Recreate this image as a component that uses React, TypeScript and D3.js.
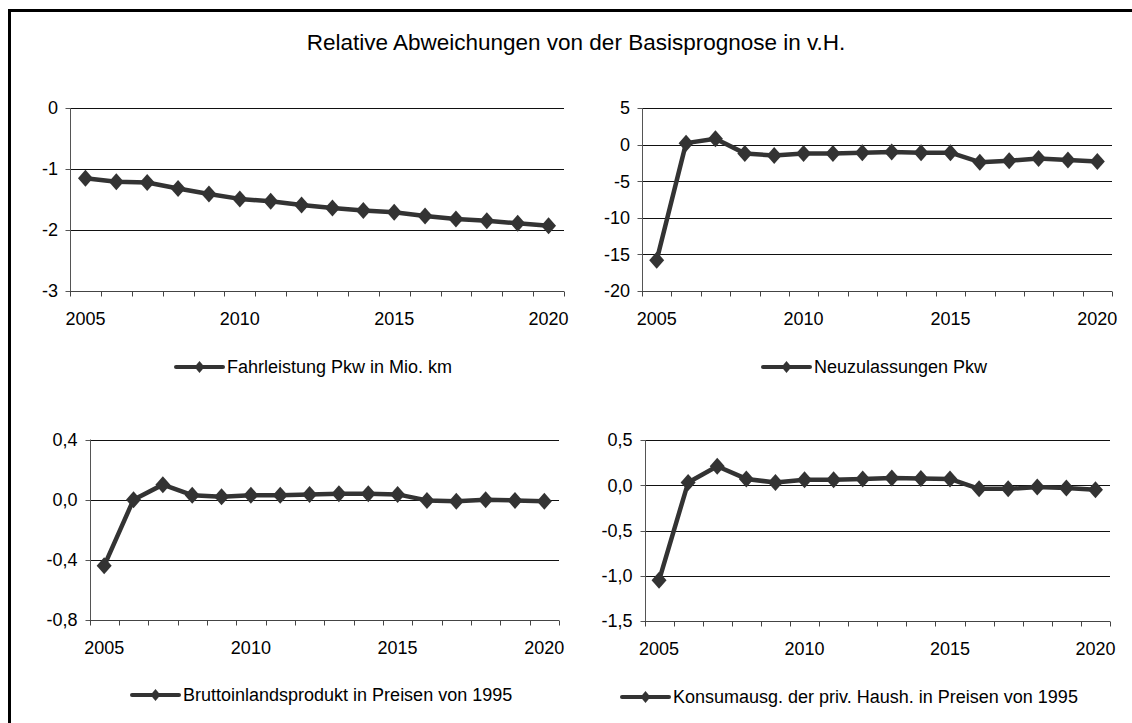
import * as d3 from 'd3';
import React, { useEffect, useRef } from 'react';

// Jahre (Kategorien)
const years = ['2005', '2006', '2007', '2008', '2009', '2010', '2011', '2012', '2013', '2014', '2015', '2016', '2017', '2018', '2019', '2020'];
const yearLabels = ['2005', '2010', '2015', '2020'];

// relative Abweichungen in v.H.
const fahrleistung = [-1.15, -1.21, -1.22, -1.32, -1.41, -1.49, -1.53, -1.59, -1.64, -1.68, -1.71, -1.77, -1.82, -1.85, -1.89, -1.93];
const neuzulassungen = [-15.8, 0.2, 0.8, -1.2, -1.5, -1.2, -1.2, -1.1, -1.0, -1.1, -1.1, -2.4, -2.2, -1.9, -2.1, -2.3];
const bip = [-0.44, 0.0, 0.1, 0.03, 0.02, 0.03, 0.03, 0.035, 0.04, 0.04, 0.035, -0.005, -0.01, 0.0, -0.005, -0.01];
const konsum = [-1.05, 0.03, 0.21, 0.07, 0.03, 0.06, 0.06, 0.07, 0.08, 0.075, 0.07, -0.04, -0.04, -0.02, -0.03, -0.05];

// Achsenbeschriftungen
const ticks1 = [0, -1, -2, -3];
const tickLabels1 = ['0', '-1', '-2', '-3'];
const ticks2 = [5, 0, -5, -10, -15, -20];
const tickLabels2 = ['5', '0', '-5', '-10', '-15', '-20'];
const ticks3 = [0.4, 0, -0.4, -0.8];
const tickLabels3 = ['0,4', '0,0', '-0,4', '-0,8'];
const ticks4 = [0.5, 0, -0.5, -1, -1.5];
const tickLabels4 = ['0,5', '0,0', '-0,5', '-1,0', '-1,5'];

const seriesNames = [
  'Fahrleistung Pkw in Mio. km',
  'Neuzulassungen Pkw',
  'Bruttoinlandsprodukt in Preisen von 1995',
  'Konsumausg. der priv. Haush. in Preisen von 1995',
];

const title = 'Relative Abweichungen von der Basisprognose in v.H.';

const FONT = '"Liberation Sans", Arial, Helvetica, sans-serif';
const LINE = '#333333';

const panels = [
  { values: fahrleistung, ticks: ticks1, labels: tickLabels1, name: seriesNames[0], left: 70, right: 564, top: 108, bottom: 291, legendX: 176, legendY: 367 },
  { values: neuzulassungen, ticks: ticks2, labels: tickLabels2, name: seriesNames[1], left: 642, right: 1112, top: 108, bottom: 291, legendX: 763, legendY: 367 },
  { values: bip, ticks: ticks3, labels: tickLabels3, name: seriesNames[2], left: 89.5, right: 559, top: 439.5, bottom: 620, legendX: 132, legendY: 695 },
  { values: konsum, ticks: ticks4, labels: tickLabels4, name: seriesNames[3], left: 644.5, right: 1110, top: 440, bottom: 621, legendX: 622, legendY: 697 },
];

function diamond(g, cx, cy, rx, ry) {
  g.append('path')
    .attr('d', `M${cx},${cy - ry}L${cx + rx},${cy}L${cx},${cy + ry}L${cx - rx},${cy}Z`)
    .attr('fill', LINE);
}

export default function App() {
  const ref = useRef(null);

  useEffect(() => {
    const svg = d3.select(ref.current);
    svg.selectAll('*').remove();

    svg.append('rect').attr('width', 1132).attr('height', 723).attr('fill', '#fff');
    svg.append('rect')
      .attr('x', 9.5).attr('y', 10.5)
      .attr('width', 1200).attr('height', 800)
      .attr('fill', 'none').attr('stroke', '#000').attr('stroke-width', 3);

    svg.append('text')
      .attr('x', 576).attr('y', 50)
      .attr('text-anchor', 'middle')
      .attr('font-family', FONT).attr('font-size', 22.5)
      .attr('fill', '#000')
      .text(title);

    panels.forEach(p => {
      const g = svg.append('g');
      const x = d3.scaleBand().domain(years).range([p.left, p.right]);
      const ext = d3.extent(p.ticks);
      const y = d3.scaleLinear().domain(ext).range([p.bottom, p.top]);
      const bw = x.bandwidth();
      const cx = d => x(d) + bw / 2;

      // Gitterlinien
      p.ticks.forEach(t => {
        if (t === ext[0]) return;
        g.append('line')
          .attr('x1', p.left).attr('x2', p.right)
          .attr('y1', Math.round(y(t)) + 0.5).attr('y2', Math.round(y(t)) + 0.5)
          .attr('stroke', '#111').attr('stroke-width', 1);
      });

      // y-Achse
      const yl = Math.round(p.left) + 0.5;
      g.append('line')
        .attr('x1', yl).attr('x2', yl)
        .attr('y1', p.top).attr('y2', p.bottom)
        .attr('stroke', '#555').attr('stroke-width', 1);
      p.ticks.forEach((t, i) => {
        const ty = Math.round(y(t)) + 0.5;
        g.append('line')
          .attr('x1', yl - 5).attr('x2', yl)
          .attr('y1', ty).attr('y2', ty)
          .attr('stroke', '#555');
        g.append('text')
          .attr('x', p.left - 12).attr('y', y(t))
          .attr('dy', '0.35em')
          .attr('text-anchor', 'end')
          .attr('font-family', FONT).attr('font-size', 18)
          .attr('fill', '#000')
          .text(p.labels[i]);
      });

      // x-Achse
      const xb = Math.round(p.bottom) + 0.5;
      g.append('line')
        .attr('x1', p.left).attr('x2', p.right)
        .attr('y1', xb).attr('y2', xb)
        .attr('stroke', '#444');
      years.concat(['end']).forEach((d, i) => {
        const tx = Math.round(i < years.length ? x(d) : p.right) + 0.5;
        g.append('line')
          .attr('x1', tx).attr('x2', tx)
          .attr('y1', xb).attr('y2', xb + 5)
          .attr('stroke', '#444');
      });
      yearLabels.forEach(d => {
        g.append('text')
          .attr('x', cx(d)).attr('y', p.bottom + 34)
          .attr('text-anchor', 'middle')
          .attr('font-family', FONT).attr('font-size', 18)
          .attr('fill', '#000')
          .text(d);
      });

      // Linie mit Rauten
      const line = d3.line().x((v, i) => cx(years[i])).y(v => y(v));
      g.append('path')
        .attr('d', line(p.values))
        .attr('fill', 'none')
        .attr('stroke', LINE).attr('stroke-width', 4.5)
        .attr('stroke-linejoin', 'round');
      p.values.forEach((v, i) => diamond(g, cx(years[i]), y(v), 7.5, 8.5));

      // Legende
      g.append('line')
        .attr('x1', p.legendX).attr('x2', p.legendX + 47)
        .attr('y1', p.legendY).attr('y2', p.legendY)
        .attr('stroke', LINE).attr('stroke-width', 4).attr('stroke-linecap', 'round');
      diamond(g, p.legendX + 23.5, p.legendY, 5, 6);
      g.append('text')
        .attr('x', p.legendX + 51).attr('y', p.legendY)
        .attr('dy', '0.35em')
        .attr('font-family', FONT).attr('font-size', 18)
        .attr('fill', '#000')
        .text(p.name);
    });
  }, []);

  return (
    <svg ref={ref} width={1132} height={723}
      style={{ position: 'absolute', left: 0, top: 0, display: 'block' }} />
  );
}
